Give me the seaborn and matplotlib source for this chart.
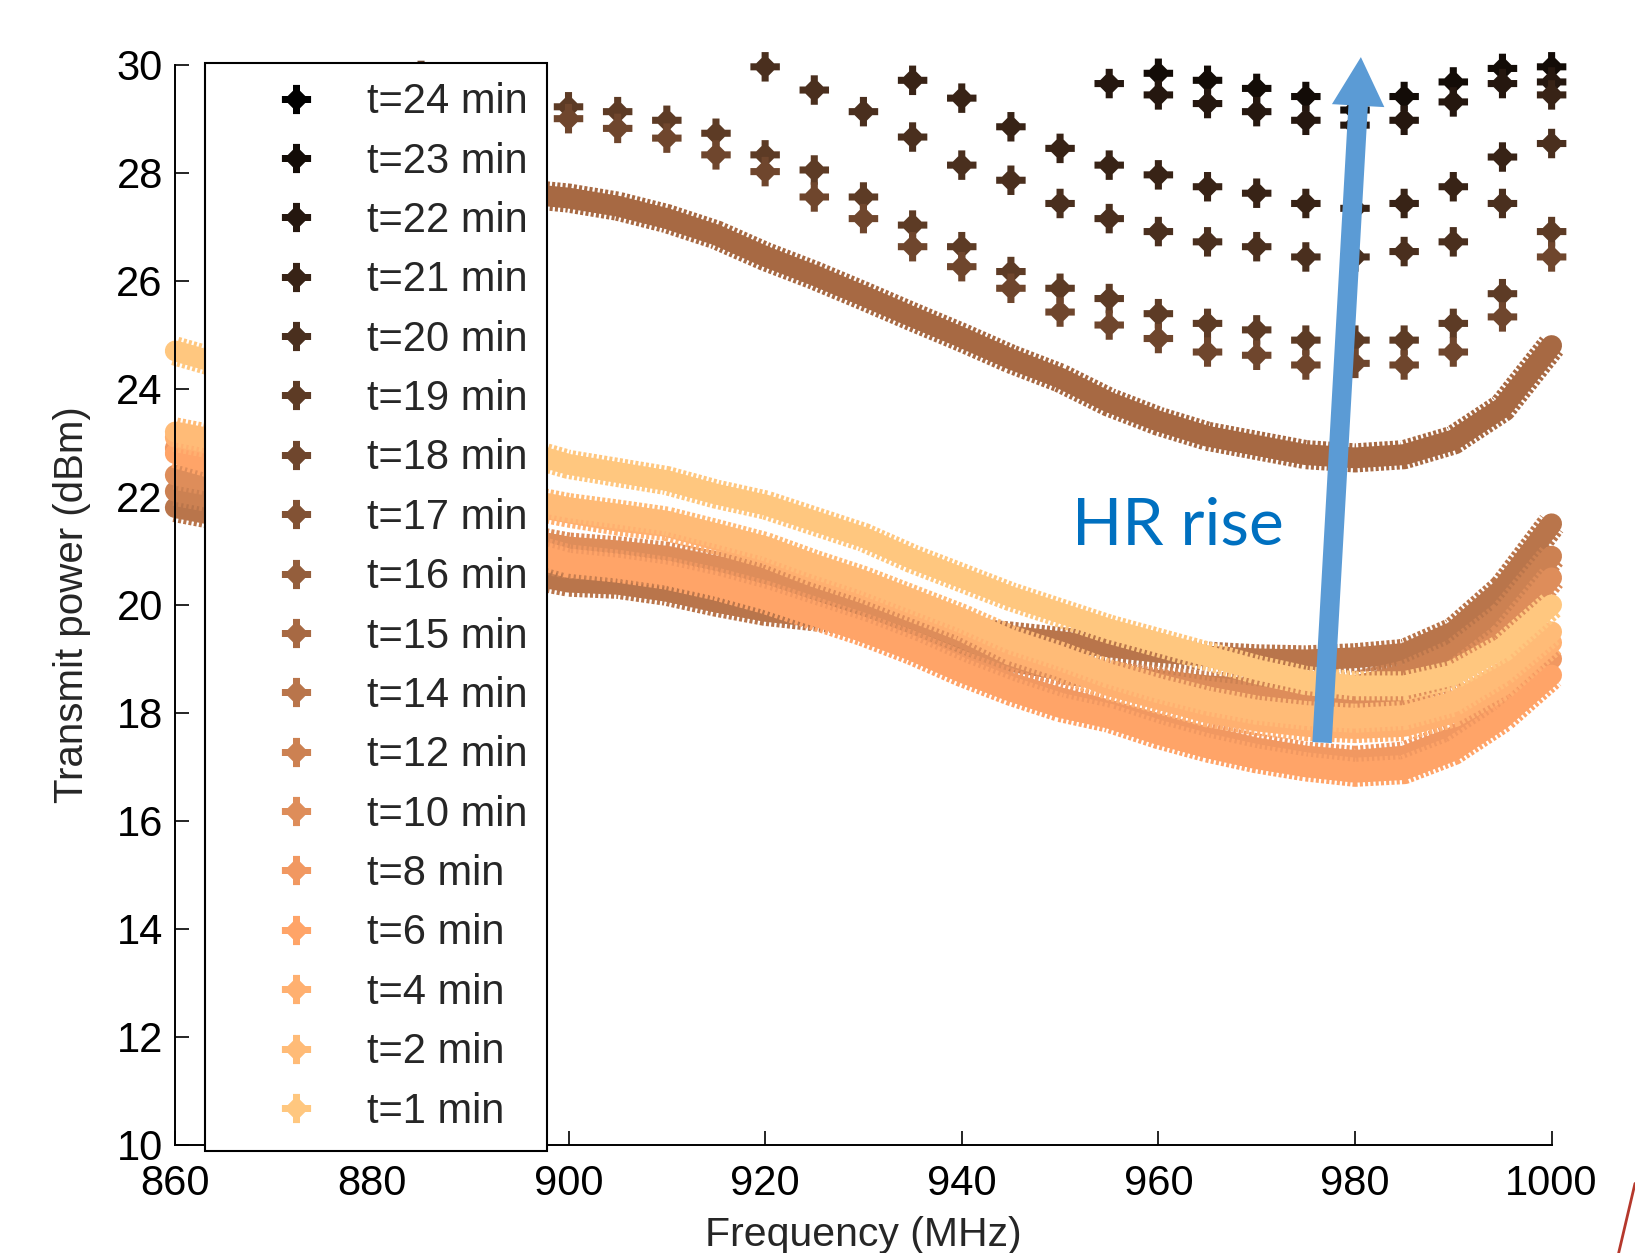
import numpy as np
import pandas as pd
import matplotlib
matplotlib.use("Agg")
import matplotlib.pyplot as plt
from matplotlib.lines import Line2D
from matplotlib.path import Path
import seaborn as sns

nan = np.nan

# Legend order (minutes), top to bottom
times = [24, 23, 22, 21, 20, 19, 18, 17, 16, 15, 14, 12, 10, 8, 6, 4, 2, 1]

# Densely swept traces (MHz, dBm)
dense_freq = [860, 900, 905, 910, 915, 920, 925, 930, 935, 940, 945,
              950, 955, 960, 965, 970, 975, 980, 985, 990, 995, 1000]
t15_freq = [895, 900, 905, 910, 915, 920, 925, 930, 935, 940, 945,
            950, 955, 960, 965, 970, 975, 980, 985, 990, 995, 1000]

t1 = [24.70, 22.60, 22.45, 22.30, 22.05, 21.85, 21.55, 21.25, 20.85, 20.50, 20.15,
      19.85, 19.55, 19.30, 19.05, 18.80, 18.60, 18.50, 18.50, 18.70, 19.20, 20.00]
t2 = [23.20, 21.80, 21.68, 21.55, 21.32, 21.08, 20.75, 20.45, 20.10, 19.75, 19.35,
      19.05, 18.72, 18.45, 18.22, 18.05, 17.95, 17.90, 17.95, 18.20, 18.75, 19.50]
t4 = [23.10, 21.70, 21.55, 21.45, 21.20, 20.95, 20.60, 20.30, 19.95, 19.60, 19.15,
      18.85, 18.50, 18.25, 18.00, 17.85, 17.75, 17.71, 17.75, 18.00, 18.50, 19.30]
t6 = [22.80, 20.77, 20.68, 20.55, 20.35, 20.10, 19.80, 19.50, 19.15, 18.75, 18.40,
      18.10, 17.90, 17.60, 17.35, 17.15, 17.00, 16.90, 16.95, 17.30, 17.90, 18.70]
t8 = [22.90, 20.85, 20.75, 20.62, 20.42, 20.18, 19.88, 19.58, 19.25, 18.88, 18.55,
      18.28, 18.05, 17.80, 17.55, 17.35, 17.20, 17.12, 17.20, 17.55, 18.20, 19.00]
t10 = [22.40, 21.07, 21.00, 20.90, 20.72, 20.55, 20.30, 20.05, 19.75, 19.40, 19.00,
       18.80, 18.70, 18.55, 18.40, 18.30, 18.22, 18.20, 18.30, 18.70, 19.40, 20.50]
t12 = [22.10, 20.75, 20.70, 20.60, 20.45, 20.25, 20.00, 19.75, 19.50, 19.20, 18.95,
       18.80, 18.70, 18.60, 18.50, 18.45, 18.45, 18.50, 18.70, 19.10, 19.80, 20.90]
t14 = [21.80, 20.42, 20.38, 20.25, 20.05, 19.88, 19.78, 19.70, 19.60, 19.50, 19.42,
       19.32, 19.22, 19.12, 19.05, 19.00, 18.98, 19.02, 19.10, 19.50, 20.30, 21.50]
t15 = [27.62, 27.53, 27.38, 27.15, 26.85, 26.45, 26.10, 25.72, 25.33, 24.95, 24.55,
       24.20, 23.75, 23.40, 23.12, 22.95, 22.78, 22.72, 22.78, 23.05, 23.65, 24.80]

# Coarsely stepped traces (5 MHz grid)
sparse_freq = [885, 890, 895, 900, 905, 910, 915, 920, 925, 930, 935, 940,
               945, 950, 955, 960, 965, 970, 975, 980, 985, 990, 995, 1000]
t18 = [nan, nan, nan, 29.00, 28.82, 28.64, 28.33, 28.02, 27.55, 27.15, 26.63, 26.26,
       25.86, 25.42, 25.18, 24.93, 24.68, 24.62, 24.44, 24.47, 24.44, 24.68, 25.33, 26.44]
t19 = [29.80, nan, nan, 29.22, 29.13, 28.97, 28.73, 28.33, 28.05, 27.55, 27.03, 26.63,
       26.17, 25.86, 25.67, 25.39, 25.21, 25.09, 24.90, 24.90, 24.90, 25.21, 25.76, 26.91]
t20 = [nan, nan, nan, nan, nan, nan, nan, 29.96, 29.53, 29.13, 28.66, 28.14,
       27.86, 27.43, 27.15, 26.91, 26.72, 26.63, 26.44, 26.44, 26.54, 26.72, 27.43, 28.54]
t21 = [nan, nan, nan, nan, nan, nan, nan, nan, nan, nan, 29.71, 29.38,
       28.85, 28.45, 28.14, 27.96, 27.74, 27.62, 27.43, 27.34, 27.43, 27.74, 28.29, 29.44]
t22 = [nan, nan, nan, nan, nan, nan, nan, nan, nan, nan, nan, nan,
       nan, nan, 29.65, 29.44, 29.28, 29.13, 28.97, 28.88, 28.97, 29.31, 29.65, 29.68]
t23 = [nan, nan, nan, nan, nan, nan, nan, nan, nan, nan, nan, nan,
       nan, nan, nan, 29.84, 29.71, 29.56, 29.41, 29.16, 29.41, 29.68, 29.93, 29.96]

x_ticks = [860, 880, 900, 920, 940, 960, 980, 1000]
y_ticks = [10, 12, 14, 16, 18, 20, 22, 24, 26, 28, 30]

# ---------- tidy tables ----------
dense = {15: (t15_freq, t15), 14: (dense_freq, t14), 12: (dense_freq, t12),
         10: (dense_freq, t10), 8: (dense_freq, t8), 6: (dense_freq, t6),
         4: (dense_freq, t4), 2: (dense_freq, t2), 1: (dense_freq, t1)}
sparse = {23: t23, 22: t22, 21: t21, 20: t20, 19: t19, 18: t18}

labels = [f"t={t} min" for t in times]
cmap = plt.get_cmap("copper")
palette = {f"t={t} min": cmap(i / (len(times) - 1)) for i, t in enumerate(times)}

rows = []
for t, (f, p) in dense.items():
    rows += [(fi, pi, f"t={t} min") for fi, pi in zip(f, p)]
df_dense = pd.DataFrame(rows, columns=["freq", "power", "label"])

rows = []
for t, p in sparse.items():
    rows += [(fi, pi, f"t={t} min") for fi, pi in zip(sparse_freq, p) if not np.isnan(pi)]
df_sparse = pd.DataFrame(rows, columns=["freq", "power", "label"])

# chunky plus marker with chamfered inner corners
a, b = 0.12, 0.30
plus_verts = [(-a, .5), (a, .5), (a, b), (b, a), (.5, a), (.5, -a), (b, -a), (a, -b),
              (a, -.5), (-a, -.5), (-a, -b), (-b, -a), (-.5, -a), (-.5, a), (-b, a),
              (-a, b), (-a, .5)]
plus_marker = Path(plus_verts, closed=True)

# ---------- figure ----------
sns.set_style("ticks")
plt.rcParams["font.family"] = ["Liberation Sans", "DejaVu Sans"]
plt.rcParams["lines.scale_dashes"] = False

fig = plt.figure(figsize=(16.35, 12.53), dpi=100)
ax = fig.add_axes([0.1072, 0.0862, 0.8418, 0.8622])

dense_order = [l for l in labels if int(l[2:-4]) in dense]
sparse_order = [l for l in labels if int(l[2:-4]) in sparse]

# each trace: a notched outer band plus a solid core
for lab in dense_order:
    sub = df_dense[df_dense["label"] == lab]
    sns.lineplot(data=sub, x="freq", y="power", color=palette[lab], lw=21,
                 linestyle=(0, (2.2, 1.6)), solid_capstyle="butt", dash_capstyle="butt",
                 estimator=None, legend=False, ax=ax)
    sns.lineplot(data=sub, x="freq", y="power", color=palette[lab], lw=15,
                 estimator=None, legend=False, ax=ax)

sns.scatterplot(data=df_sparse, x="freq", y="power", hue="label", hue_order=sparse_order,
                palette=palette, marker=plus_marker, s=450, linewidth=0, legend=False,
                ax=ax, zorder=3)
for art in ax.lines + ax.collections:
    art.set_clip_on(False)

ax.set_xlim(860, 1000)
ax.set_ylim(10, 30)
ax.set_xticks(x_ticks)
ax.set_yticks(y_ticks)
sns.despine(ax=ax)
for s in ("left", "bottom"):
    ax.spines[s].set_linewidth(1.4)
    ax.spines[s].set_color("black")
ax.tick_params(direction="in", length=10, width=1.2, labelsize=30, colors="black")
ax.tick_params(axis="y", pad=9)
ax.tick_params(axis="x", pad=14)

ax.set_xlabel("Frequency (MHz)", fontsize=29.5)
ax.set_ylabel("Transmit power (dBm)", fontsize=29)
ax.xaxis.set_label_coords(0.5, -0.066)
ax.yaxis.set_label_coords(-0.061, 0.5)

# trend arrow and caption
ax.annotate("", xy=(980.6, 30.14), xytext=(976.65, 17.45),
            arrowprops=dict(arrowstyle="simple,head_length=1.0,head_width=1.08,tail_width=0.4",
                            mutation_scale=35, color="#5B9BD5", lw=0, shrinkA=0, shrinkB=0),
            annotation_clip=False, zorder=4)
ax.text(962.0, 21.45, "HR rise", color="#0070C0", fontsize=47.5, family=["Lato", "DejaVu Sans"],
        ha="center", va="center", zorder=4)

# legend
handles = [Line2D([], [], linestyle="none", marker=plus_marker, markersize=21,
                  markeredgewidth=0, color=palette[l]) for l in labels]
leg = ax.legend(handles, labels, loc="upper left", bbox_to_anchor=(0.0219, 1.0019),
                borderaxespad=0, frameon=True, fancybox=False, framealpha=1,
                edgecolor="black", fontsize=30, handlelength=3.4, handletextpad=0.0,
                labelspacing=0.465, borderpad=0.47)
leg.get_frame().set_linewidth(1.5)
leg.set_zorder(6)

fig.add_artist(Line2D([1.0, 0.990], [0.0555, 0.0], transform=fig.transFigure,
                      color="#B5382C", lw=2))

fig.savefig("out.png", dpi=100, facecolor="white")
